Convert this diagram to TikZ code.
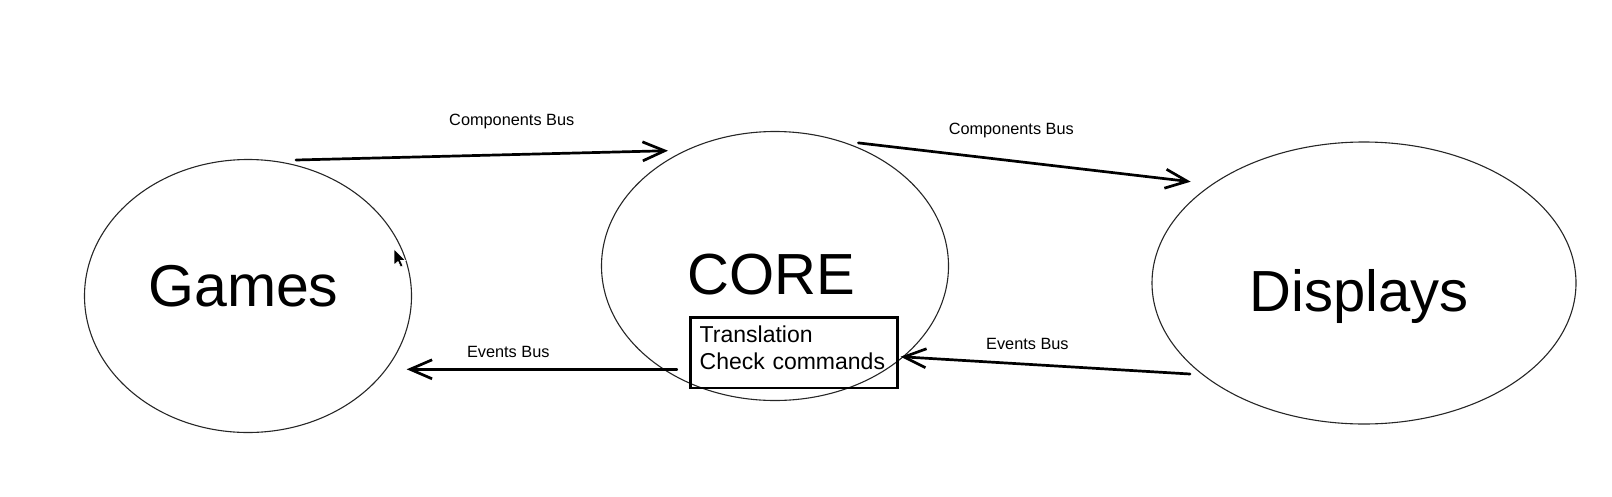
\documentclass[tikz,border=0pt]{standalone}
\usepackage{fontspec}
\setmainfont{Liberation Sans}
\usepackage{tikz}
\usetikzlibrary{arrows.meta, positioning, shapes.geometric, calc}

\begin{document}
\begin{tikzpicture}[
  x=1pt, y=-1pt,
  blob/.style={ellipse, draw=black!85, line width=1.1pt, inner sep=0pt},
  big/.style={font=\fontsize{58}{68}\selectfont, anchor=base, inner sep=0pt},
  lbl/.style={font=\fontsize{16.3}{19}\selectfont, inner sep=0pt},
  arr/.style={-{Straight Barb[length=22pt, width=19pt]}, line width=2.7pt, line cap=round}
]
\useasboundingbox (0,0) rectangle (1612,496);

% the three parts
\node[blob, minimum width=327pt, minimum height=273pt] (games) at (248,296) {};
\node[blob, minimum width=347pt, minimum height=269pt] (core) at (775,266) {};
\node[blob, minimum width=424pt, minimum height=282pt] (disp) at (1364,283) {};

\node[big, font=\fontsize{59}{68}\selectfont] (games-t) at (243.4,306.7) {Games};
\node[big] (core-t) at (771.7,294) {CORE};
\node[big] (disp-t) at (1359,311.4) {Displays};

\node[draw, line width=2.5pt, inner xsep=9pt, inner ysep=0pt, text width=189pt,
  minimum height=70.8pt, align=left, font=\fontsize{23}{26.7}\selectfont]
  (trans) at (794.2,352.7) {Translation\\Check commands\rule[-10pt]{0pt}{0pt}};

% buses
\draw[arr] ($(games.center)+(48,-136)$) -- node[lbl, pos=.58, above=24.7pt] (cb1) {Components Bus} ($(core.center)+(-107,-115.3)$);
\draw[arr] ($(core.center)+(83.4,-123.1)$) -- node[lbl, pos=.46, above=21.4pt] (cb2) {Components Bus} ($(disp.center)+(-173.3,-101.3)$);
\draw[arr] ($(trans.west)+(-12.6,16.6)$) -- node[lbl, pos=.624, above=9.8pt] (eb1) {Events Bus} ($(games.center)+(158.7,73.3)$);
\draw[arr] ($(disp.center)+(-174,91)$) -- node[lbl, pos=.562, above=13.3pt] (eb2) {Events Bus} ($(trans.east)+(1.7,4)$);

% mouse pointer
\fill[black, draw=white, line width=.6pt, shift={(394,249)}] (0,0) -- (0,16) -- (4,12.5) -- (6.5,18) -- (9,17) -- (6.5,11.5) -- (11.5,11.5) -- cycle;
\end{tikzpicture}
\end{document}
